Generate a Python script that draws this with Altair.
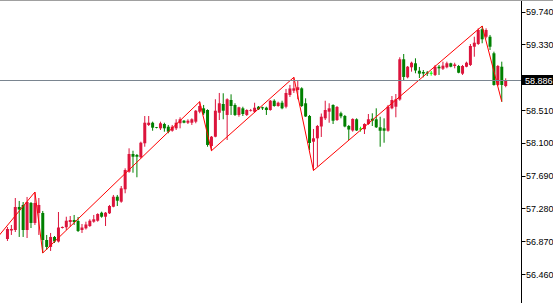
import altair as alt
import pandas as pd

opens = [
    56.898, 57.005, 57.011, 57.299, 57.324, 57.011, 57.349, 57.099, 57.224, 57.224,
    56.886, 56.799, 56.924, 56.867, 57.036, 57.045, 57.111, 57.136, 57.124, 57.011,
    57.032, 57.061, 57.115, 57.127, 57.227, 57.177, 57.220, 57.302, 57.427, 57.365,
    57.520, 57.740, 57.961, 57.949, 57.920, 58.095, 58.324, 58.352, 58.295, 58.282,
    58.336, 58.302, 58.252, 58.282, 58.345, 58.377, 58.352, 58.352, 58.365, 58.490,
    58.532, 58.511, 58.061, 58.177, 58.477, 58.586, 58.449, 58.636, 58.574, 58.449,
    58.532, 58.449, 58.502, 58.490, 58.552, 58.545, 58.540, 58.511, 58.627, 58.561,
    58.602, 58.552, 58.699, 58.752, 58.761, 58.782, 58.595, 58.436, 58.115, 58.157,
    58.305, 58.407, 58.490, 58.574, 58.386, 58.470, 58.436, 58.311, 58.255, 58.395,
    58.274, 58.270, 58.336, 58.402, 58.395, 58.295, 58.282, 58.252, 58.532, 58.552,
    58.642, 59.145, 58.920, 59.045, 59.095, 59.002, 58.986, 58.980, 58.970, 58.949,
    59.052, 59.027, 59.045, 59.095, 59.061, 59.061, 58.965, 59.052, 59.074, 59.302,
    59.336, 59.520, 59.427, 59.427, 59.220, 58.824, 59.052, 58.811,
]
highs = [
    57.049, 57.074, 57.411, 57.374, 57.361, 57.424, 57.361, 57.486, 57.411, 57.249,
    56.949, 56.974, 56.936, 57.236, 57.055, 57.177, 57.186, 57.199, 57.174, 57.086,
    57.115, 57.145, 57.199, 57.220, 57.240, 57.236, 57.324, 57.449, 57.449, 57.561,
    57.782, 58.032, 58.002, 57.961, 58.115, 58.436, 58.436, 58.365, 58.299, 58.365,
    58.352, 58.324, 58.324, 58.395, 58.420, 58.386, 58.395, 58.407, 58.511, 58.615,
    58.574, 58.520, 58.186, 58.645, 58.724, 58.720, 58.657, 58.707, 58.595, 58.552,
    58.552, 58.520, 58.524, 58.602, 58.561, 58.552, 58.552, 58.636, 58.645, 58.615,
    58.627, 58.774, 58.824, 58.920, 58.886, 58.795, 58.657, 58.449, 58.274, 58.324,
    58.467, 58.627, 58.595, 58.582, 58.561, 58.490, 58.449, 58.324, 58.407, 58.407,
    58.302, 58.345, 58.461, 58.470, 58.532, 58.427, 58.407, 58.574, 58.686, 58.711,
    59.170, 59.211, 59.061, 59.115, 59.157, 59.049, 59.011, 58.999, 58.999, 59.074,
    59.074, 59.115, 59.115, 59.102, 59.102, 59.074, 59.074, 59.115, 59.336, 59.427,
    59.532, 59.561, 59.532, 59.449, 59.240, 59.074, 59.115, 58.907,
]
lows = [
    56.874, 56.949, 56.986, 56.924, 56.924, 56.911, 57.036, 57.074, 56.949, 56.724,
    56.761, 56.749, 56.849, 56.855, 57.030, 57.011, 57.052, 57.074, 56.986, 56.974,
    57.017, 57.049, 57.102, 57.115, 57.165, 57.061, 57.211, 57.295, 57.311, 57.352,
    57.470, 57.727, 57.727, 57.670, 57.907, 58.052, 58.311, 58.252, 58.282, 58.261,
    58.240, 58.220, 58.240, 58.261, 58.282, 58.345, 58.336, 58.324, 58.345, 58.470,
    58.449, 58.052, 58.002, 58.170, 58.386, 58.395, 58.136, 58.449, 58.436, 58.427,
    58.436, 58.436, 58.492, 58.477, 58.511, 58.511, 58.449, 58.502, 58.552, 58.552,
    58.520, 58.532, 58.674, 58.724, 58.645, 58.549, 58.424, 58.011, 57.755, 57.802,
    58.174, 58.386, 58.352, 58.336, 58.374, 58.407, 58.295, 58.136, 58.240, 58.249,
    58.240, 58.211, 58.324, 58.311, 58.286, 58.052, 58.102, 58.240, 58.520, 58.420,
    58.627, 58.874, 58.907, 58.990, 58.970, 58.911, 58.920, 58.936, 58.940, 58.936,
    58.949, 59.011, 59.032, 59.045, 59.032, 58.970, 58.949, 59.045, 59.061, 59.177,
    59.324, 59.345, 59.407, 59.261, 58.815, 58.811, 58.615, 58.795,
]
closes = [
    57.024, 57.024, 57.299, 57.267, 57.011, 57.361, 57.099, 57.349, 57.324, 56.886,
    56.799, 56.924, 56.867, 57.042, 57.049, 57.127, 57.136, 57.111, 56.999, 57.042,
    57.080, 57.127, 57.145, 57.211, 57.177, 57.227, 57.311, 57.427, 57.377, 57.532,
    57.761, 57.961, 57.927, 57.927, 58.102, 58.352, 58.352, 58.290, 58.286, 58.345,
    58.282, 58.240, 58.302, 58.352, 58.395, 58.352, 58.377, 58.395, 58.502, 58.561,
    58.470, 58.074, 58.177, 58.502, 58.595, 58.502, 58.645, 58.561, 58.449, 58.545,
    58.461, 58.511, 58.511, 58.540, 58.520, 58.532, 58.511, 58.627, 58.561, 58.602,
    58.532, 58.724, 58.780, 58.782, 58.795, 58.561, 58.430, 58.099, 58.157, 58.311,
    58.427, 58.511, 58.532, 58.377, 58.549, 58.432, 58.305, 58.267, 58.399, 58.255,
    58.274, 58.336, 58.395, 58.377, 58.295, 58.252, 58.252, 58.552, 58.636, 58.645,
    59.145, 58.924, 59.052, 59.102, 59.005, 58.965, 58.967, 58.967, 58.970, 59.052,
    59.032, 59.065, 59.095, 59.052, 59.080, 58.977, 59.061, 59.102, 59.311, 59.352,
    59.511, 59.395, 59.511, 59.302, 58.824, 59.061, 58.824, 58.886,
]

zz_index = [-3, 7, 9, 49, 52, 73, 78, 121, 126]
zz_price = [56.891, 57.486, 56.724, 58.615, 58.002, 58.920, 57.755, 59.561, 58.615]

bid = 58.886
tick_values = [56.460, 56.870, 57.280, 57.690, 58.100, 58.510, 59.330, 59.740]

df = pd.DataFrame({"i": list(range(len(opens))), "open": opens, "high": highs,
                   "low": lows, "close": closes})
df["kind"] = ["up" if c > o else ("down" if c < o else "doji") for o, c in zip(opens, closes)]
zz = pd.DataFrame({"i": zz_index, "price": zz_price})
bid_df = pd.DataFrame({"bid": [bid], "label": [f"{bid:.3f}"]})

xs = alt.Scale(domain=[-0.625, 129.625], nice=False, zero=False)
ys = alt.Scale(domain=[56.0985, 59.886], nice=False, zero=False)
yaxis = alt.Axis(orient="right", values=tick_values, format=".3f", title=None,
                 labelFont="Liberation Sans", labelFontSize=9, labelColor="black",
                 tickColor="black", tickSize=4, domainColor="black", labelPadding=0.5,
                 grid=False, labelOverlap=False)
color = alt.Color("kind:N", legend=None,
                  scale=alt.Scale(domain=["up", "down", "doji"],
                                  range=["#DC143C", "#008000", "#00FF00"]))

base = alt.Chart(df)
X = alt.X("i:Q", scale=xs, axis=None)

wicks = base.mark_rule(strokeWidth=1).encode(
    x=X, y=alt.Y("low:Q", scale=ys, axis=yaxis), y2="high:Q", color=color)
bodies = base.transform_filter("datum.open != datum.close").mark_bar(size=3).encode(
    x=X, y=alt.Y("open:Q", scale=ys, axis=yaxis), y2="close:Q", color=color)
dojis = base.transform_filter("datum.open == datum.close").mark_rule(
    strokeWidth=1, xOffset=-1.5, x2Offset=1.5).encode(
    x=X, x2="i:Q", y=alt.Y("close:Q", scale=ys, axis=yaxis), color=color)

zigzag = alt.Chart(zz).mark_line(color="#FF0000", strokeWidth=1, clip=True).encode(
    x=alt.X("i:Q", scale=xs, axis=None), y=alt.Y("price:Q", scale=ys, axis=yaxis))

bid_line = alt.Chart(bid_df).mark_rule(color="#7A8590", strokeWidth=1, yOffset=0.5).encode(
    y=alt.Y("bid:Q", scale=ys, axis=yaxis), x=alt.value(0), x2=alt.value(521))
bid_box = alt.Chart(bid_df).mark_rect(color="black", yOffset=-5, y2Offset=5).encode(
    y=alt.Y("bid:Q", scale=ys, axis=yaxis), y2="bid:Q", x=alt.value(522), x2=alt.value(553))
bid_text = alt.Chart(bid_df).mark_text(align="left", baseline="middle", color="white",
                                       font="Liberation Sans", fontSize=9, dy=0.5).encode(
    y=alt.Y("bid:Q", scale=ys, axis=yaxis), x=alt.value(525), text="label:N")

top_border = alt.Chart(bid_df).mark_rule(color="#A0A0A0", strokeWidth=1).encode(
    x=alt.value(0), x2=alt.value(553), y=alt.value(0.5))

chart = alt.layer(wicks, bodies, dojis, zigzag, bid_line, bid_box, bid_text, top_border).properties(
    width=521, height=303,
    padding={"left": 0, "right": 32, "top": 0, "bottom": 0},
    autosize=alt.AutoSizeParams(type="none"),
    background="white",
).configure_view(stroke=None)

chart.save("out.html", embed_options={"renderer": "svg", "actions": False})
